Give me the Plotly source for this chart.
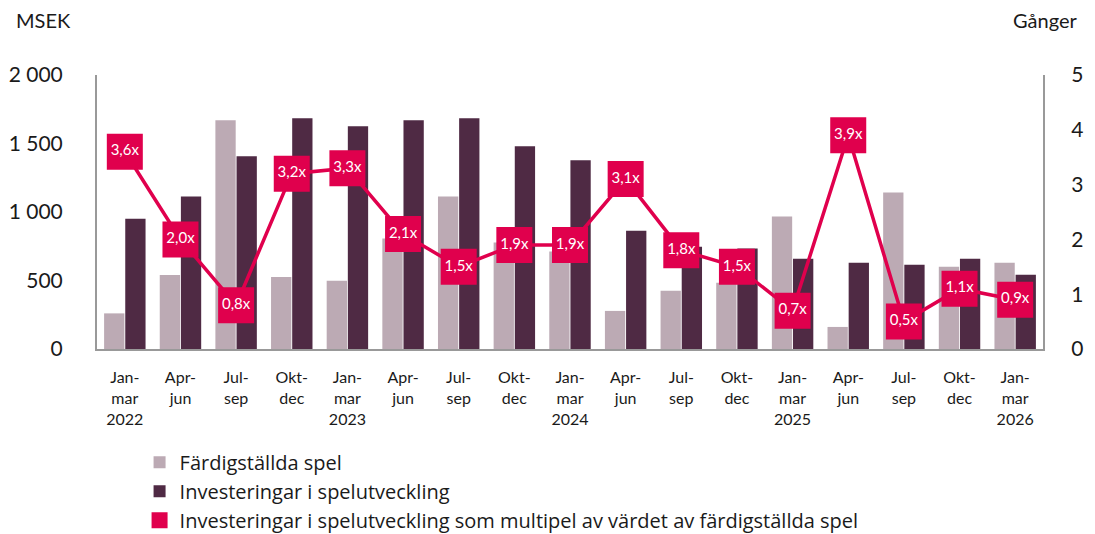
import plotly.graph_objects as go

categories = ["Jan-<br>mar<br>2022", "Apr-<br>jun", "Jul-<br>sep", "Okt-<br>dec",
              "Jan-<br>mar<br>2023", "Apr-<br>jun", "Jul-<br>sep", "Okt-<br>dec",
              "Jan-<br>mar<br>2024", "Apr-<br>jun", "Jul-<br>sep", "Okt-<br>dec",
              "Jan-<br>mar<br>2025", "Apr-<br>jun", "Jul-<br>sep", "Okt-<br>dec",
              "Jan-<br>mar<br>2026"]
fardiga = [260, 540, 1670, 525, 498, 806, 1113, 777, 712, 278, 425, 484, 967, 161, 1143, 601, 630]
investeringar = [950, 1113, 1407, 1685, 1626, 1670, 1685, 1480, 1377, 864, 747, 733, 659, 630, 615, 659, 542]
multipel = [3.6, 2.0, 0.8, 3.2, 3.3, 2.1, 1.5, 1.9, 1.9, 3.1, 1.8, 1.5, 0.7, 3.9, 0.5, 1.1, 0.9]
multipel_labels = [f"{v:.1f}x".replace(".", ",") for v in multipel]

left_tickvals = [0, 500, 1000, 1500, 2000]
left_ticktext = ["0", "500", "1 000", "1 500", "2 000"]
right_tickvals = [0, 1, 2, 3, 4, 5]

name_light = "Färdigställda spel"
name_dark = "Investeringar i spelutveckling"
name_line = "Investeringar i spelutveckling som multipel av värdet av färdigställda spel"

c_light = "#BCAAB4"
c_dark = "#4F2A44"
c_line = "#E0004D"
font_family = "Lato, 'Open Sans', sans-serif"
txt = "#1a1a1a"

xpos = list(range(len(categories)))

fig = go.Figure()
fig.add_trace(go.Bar(x=xpos, y=fardiga, name=name_light, marker_color=c_light,
                     marker_line_width=0))
fig.add_trace(go.Bar(x=xpos, y=investeringar, name=name_dark, marker_color=c_dark,
                     marker_line_width=0))
fig.add_trace(go.Scatter(x=xpos, y=multipel, yaxis="y2", mode="lines+markers+text",
                         line=dict(color=c_line, width=3.5),
                         marker=dict(symbol="square", size=36, color=c_line),
                         text=multipel_labels, textposition="middle center",
                         textfont=dict(color="white", size=15, family=font_family),
                         showlegend=False, cliponaxis=False))
fig.add_trace(go.Scatter(x=[0], y=[None], yaxis="y2", mode="markers", name=name_line,
                         marker=dict(symbol="square", size=16, color=c_line)))

fig.update_layout(
    width=1095, height=534,
    margin=dict(l=97, r=52, t=75, b=185, autoexpand=False),
    paper_bgcolor="white", plot_bgcolor="white",
    font=dict(family=font_family, color=txt),
    barmode="group", bargap=0.24, bargroupgap=0.04,
    xaxis=dict(range=[-0.5, len(categories) - 0.5], tickvals=xpos, ticktext=categories,
               showline=True, linecolor="#999999", linewidth=2, showgrid=False,
               zeroline=False,
               tickfont=dict(size=16, color=txt), ticks="", ticklabelstandoff=13,
               tickangle=0),
    yaxis=dict(range=[0, 2000], tickvals=left_tickvals, ticktext=left_ticktext,
               showline=True, linecolor="#999999", linewidth=2, showgrid=False,
               zeroline=False, tickfont=dict(size=21, color=txt), ticklabelstandoff=28),
    yaxis2=dict(range=[0, 5], tickvals=right_tickvals, overlaying="y", side="right",
                showline=True, linecolor="#999999", linewidth=2, showgrid=False,
                zeroline=False, tickfont=dict(size=21, color=txt), ticklabelstandoff=22),
    legend=dict(x=0.045, y=0.171, xref="paper", yref="container",
                xanchor="left", yanchor="top", orientation="v",
                font=dict(size=20, color=txt, family="'Open Sans', sans-serif"),
                tracegroupgap=0, itemwidth=30,
                traceorder="normal", bgcolor="rgba(0,0,0,0)"),
    annotations=[
        dict(text="MSEK", xref="paper", yref="paper", x=-0.088, y=1.20,
             xanchor="left", yanchor="middle", showarrow=False, font=dict(size=20, color=txt)),
        dict(text="Gånger", xref="paper", yref="paper", x=1.038, y=1.20,
             xanchor="right", yanchor="middle", showarrow=False, font=dict(size=20, color=txt)),
    ],
)

fig.write_html("out.html")
